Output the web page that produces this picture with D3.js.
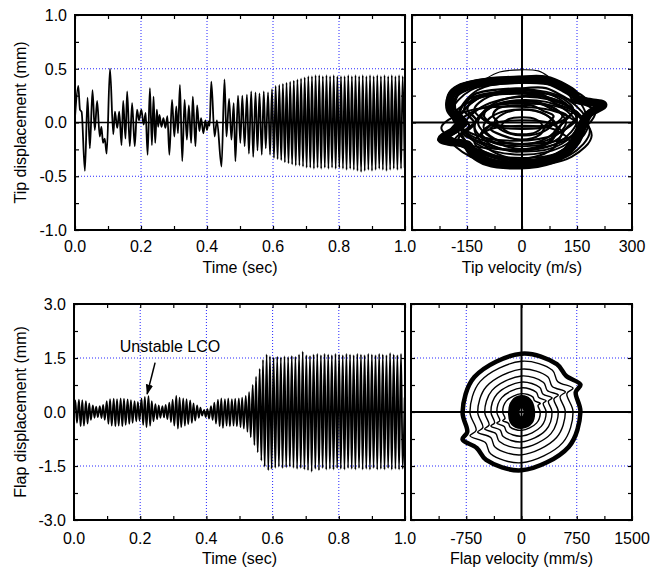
<!DOCTYPE html>
<html><head><meta charset="utf-8">
<script src="https://cdn.jsdelivr.net/npm/d3@7"></script>
<style>
body{margin:0;background:#fff}
text{font-family:"Liberation Sans",Arial,sans-serif;font-size:16px;fill:#000}
</style>
</head><body>
<svg id="chart" width="654" height="572"></svg>
<script>
// ---------------- DATA ----------------
const timeLabels = [0.0, 0.2, 0.4, 0.6, 0.8, 1.0];
const tipLabels = [-1.0, -0.5, 0.0, 0.5, 1.0];
const flapLabels = [-3.0, -1.5, 0.0, 1.5, 3.0];
const tipVelLabels = [-150, 0, 150, 300];
const flapVelLabels = [-750, 0, 750, 1500];

// tip displacement extrema [time s, mm]
const tipDisp = [
[0.000,0.05],[0.010,0.34],[0.015,0.12],[0.020,0.10],[0.030,-0.45],[0.038,0.23],[0.045,-0.24],[0.053,0.30],
[0.060,-0.07],[0.067,0.20],[0.075,-0.13],[0.080,-0.04],[0.085,-0.19],[0.090,-0.15],[0.096,-0.29],[0.106,0.50],
[0.116,-0.11],[0.121,0.10],[0.128,-0.05],[0.134,0.10],[0.141,-0.21],[0.146,0.20],[0.153,-0.15],[0.158,0.29],
[0.166,-0.22],[0.173,0.18],[0.181,-0.22],[0.188,0.12],[0.194,0.02],[0.201,0.12],[0.208,-0.02],[0.214,0.09],
[0.220,-0.30],[0.227,0.32],[0.233,-0.21],[0.238,0.24],[0.243,-0.19],[0.248,0.12],[0.252,-0.04],[0.256,0.07],
[0.262,-0.04],[0.268,0.04],[0.274,-0.05],[0.280,0.06],[0.286,-0.30],[0.294,0.21],[0.301,-0.13],[0.307,0.15],
[0.312,-0.10],[0.318,0.35],[0.325,-0.36],[0.332,0.21],[0.339,-0.16],[0.345,0.16],[0.352,-0.19],[0.357,0.24],
[0.365,-0.22],[0.370,0.16],[0.377,-0.08],[0.382,0.04],[0.389,-0.10],[0.395,0.02],[0.400,-0.07],[0.405,0.01],
[0.408,-0.03],[0.413,0.38],[0.423,-0.13],[0.430,0.02],[0.444,-0.41],[0.453,0.40],[0.459,-0.13],[0.467,0.22],
[0.474,-0.16],[0.481,0.18],[0.486,-0.36],[0.494,0.25],[0.501,-0.19],[0.507,0.25],[0.514,-0.22],[0.521,0.26],
[0.527,-0.29],[0.534,0.29],[0.540,-0.32],[0.547,0.28],[0.553,-0.26],[0.559,0.27],[0.566,-0.30],[0.572,0.29],
[0.578,-0.24],[0.585,0.28],[0.591,-0.30],[0.597,0.31],[0.603,-0.33],[0.608,0.34],[0.614,-0.34],[0.619,0.35],
[0.625,-0.35],[0.630,0.36],[0.636,-0.37],[0.641,0.37],[0.647,-0.38],[0.652,0.38],[0.658,-0.39],[0.663,0.39],
[0.669,-0.40],[0.674,0.40],[0.680,-0.40],[0.685,0.41],[0.691,-0.41],[0.696,0.42],[0.702,-0.42],[0.707,0.43],
[0.713,-0.42],[0.718,0.43],[0.724,-0.43],[0.729,0.44],[0.735,-0.42],[0.740,0.44],[0.746,-0.43],[0.751,0.43],
[0.757,-0.42],[0.762,0.44],[0.768,-0.43],[0.773,0.43],[0.779,-0.42],[0.784,0.44],[0.790,-0.43],[0.795,0.43],
[0.801,-0.42],[0.806,0.43],[0.812,-0.43],[0.817,0.43],[0.823,-0.44],[0.828,0.44],[0.834,-0.43],[0.839,0.43],
[0.845,-0.44],[0.850,0.44],[0.856,-0.45],[0.861,0.43],[0.867,-0.46],[0.872,0.44],[0.878,-0.45],[0.883,0.43],
[0.889,-0.44],[0.894,0.44],[0.900,-0.45],[0.905,0.43],[0.911,-0.44],[0.916,0.44],[0.922,-0.43],[0.927,0.43],
[0.933,-0.44],[0.938,0.44],[0.944,-0.45],[0.949,0.43],[0.955,-0.44],[0.960,0.44],[0.966,-0.43],[0.971,0.43],
[0.977,-0.44],[0.982,0.44],[0.988,-0.43],[0.993,0.43],[0.999,-0.42]
];

// flap displacement extrema [time s, mm]
const flapDisp = [
[0.000,0.00],[0.004,0.32],[0.009,-0.30],[0.015,0.34],[0.020,-0.40],[0.025,0.33],[0.030,-0.38],[0.036,0.30],[0.041,-0.32],
[0.046,0.24],[0.051,-0.22],[0.057,0.18],[0.062,-0.16],[0.067,0.15],[0.072,-0.14],[0.078,0.16],[0.083,-0.17],
[0.088,0.20],[0.093,-0.22],[0.099,0.30],[0.104,-0.33],[0.109,0.36],[0.114,-0.38],[0.120,0.37],[0.125,-0.40],
[0.130,0.36],[0.135,-0.38],[0.141,0.38],[0.146,-0.40],[0.151,0.37],[0.156,-0.36],[0.162,0.35],[0.167,-0.33],
[0.172,0.33],[0.177,-0.30],[0.183,0.30],[0.188,-0.26],[0.193,0.28],[0.198,-0.24],[0.204,0.38],[0.209,-0.36],
[0.214,0.42],[0.219,-0.42],[0.225,0.44],[0.230,-0.38],[0.235,0.30],[0.240,-0.26],[0.246,0.22],[0.251,-0.20],
[0.256,0.18],[0.261,-0.16],[0.267,0.16],[0.272,-0.15],[0.277,0.20],[0.282,-0.20],[0.288,0.26],[0.293,-0.28],
[0.298,0.34],[0.303,-0.38],[0.309,0.45],[0.314,-0.46],[0.319,0.40],[0.324,-0.42],[0.330,0.38],[0.335,-0.38],
[0.340,0.36],[0.345,-0.34],[0.351,0.32],[0.356,-0.30],[0.361,0.24],[0.366,-0.24],[0.372,0.18],[0.377,-0.16],
[0.382,0.12],[0.387,-0.10],[0.393,0.06],[0.398,-0.14],[0.403,0.08],[0.408,-0.18],[0.414,0.16],[0.419,-0.22],
[0.424,0.26],[0.429,-0.32],[0.435,0.34],[0.440,-0.40],[0.445,0.38],[0.450,-0.44],[0.456,0.36],[0.461,-0.38],
[0.466,0.38],[0.471,-0.40],[0.477,0.36],[0.482,-0.38],[0.487,0.37],[0.492,-0.40],[0.498,0.38],[0.503,-0.42],
[0.508,0.40],[0.513,-0.46],[0.519,0.45],[0.524,-0.55],[0.529,0.55],[0.534,-0.70],[0.540,0.75],[0.545,-0.92],
[0.550,0.98],[0.555,-1.12],[0.561,1.20],[0.566,-1.35],[0.571,1.45],[0.576,-1.52],[0.582,1.60],[0.587,-1.62],
[0.592,1.55],[0.597,-1.58],[0.603,1.52],[0.608,-1.55],[0.614,1.54],[0.619,-1.52],[0.625,1.52],[0.630,-1.56],
[0.636,1.55],[0.641,-1.54],[0.647,1.53],[0.652,-1.52],[0.658,1.56],[0.663,-1.55],[0.669,1.54],[0.674,-1.58],
[0.680,1.60],[0.685,-1.56],[0.691,1.68],[0.696,-1.60],[0.702,1.58],[0.707,-1.62],[0.713,1.56],[0.718,-1.66],
[0.724,1.60],[0.729,-1.58],[0.735,1.62],[0.740,-1.62],[0.746,1.58],[0.751,-1.56],[0.757,1.62],[0.762,-1.60],
[0.768,1.60],[0.773,-1.58],[0.779,1.58],[0.784,-1.60],[0.790,1.62],[0.795,-1.56],[0.801,1.60],[0.806,-1.58],
[0.812,1.58],[0.817,-1.60],[0.823,1.62],[0.828,-1.56],[0.834,1.60],[0.839,-1.58],[0.845,1.58],[0.850,-1.60],
[0.856,1.62],[0.861,-1.56],[0.867,1.60],[0.872,-1.60],[0.878,1.58],[0.883,-1.58],[0.889,1.62],[0.894,-1.60],
[0.900,1.60],[0.905,-1.56],[0.911,1.58],[0.916,-1.60],[0.922,1.62],[0.927,-1.58],[0.933,1.60],[0.938,-1.60],
[0.944,1.58],[0.949,-1.56],[0.955,1.64],[0.960,-1.60],[0.966,1.60],[0.971,-1.58],[0.977,1.58],[0.982,-1.60],
[0.988,1.62],[0.993,-1.58],[0.999,0.40]
];

// tip phase portrait loops [velocity m/s, displacement mm]
const tipBandOuter = [[0,0.42],[-100,0.40],[-168,0.345],[-196,0.28],[-203,0.20],[-200,0.12],[-185,0.05],[-165,0.01],[-185,-0.07],[-228,-0.16],[-205,-0.19],[-158,-0.21],[-138,-0.30],[-97,-0.385],[-6,-0.415],[84,-0.365],[128,-0.28],[155,-0.175],[165,-0.095],[174,-0.01],[187,0.085],[228,0.17],[193,0.20],[155,0.22],[145,0.28],[119,0.345],[66,0.415]];
const tipBandMid = [[-6,0.40],[-97,0.38],[-165,0.33],[-190,0.27],[-198,0.20],[-197,0.12],[-180,0.05],[-160,0.01],[-180,-0.06],[-220,-0.155],[-200,-0.18],[-155,-0.20],[-135,-0.29],[-95,-0.37],[-6,-0.40],[82,-0.35],[124,-0.27],[150,-0.17],[160,-0.09],[170,-0.01],[183,0.08],[222,0.165],[190,0.19],[152,0.21],[142,0.27],[116,0.33],[65,0.40]];
const tipBandInner = [[-6,0.37],[-90,0.35],[-152,0.30],[-176,0.25],[-183,0.18],[-181,0.11],[-166,0.04],[-148,0.0],[-166,-0.06],[-200,-0.14],[-184,-0.165],[-143,-0.185],[-124,-0.27],[-88,-0.34],[-6,-0.37],[75,-0.32],[114,-0.25],[138,-0.16],[148,-0.08],[156,-0.01],[168,0.07],[200,0.15],[175,0.175],[140,0.19],[131,0.25],[107,0.30],[60,0.37]];
const tipTopArc = [[-97,0.41],[-61,0.47],[-6,0.49],[44,0.48],[71,0.43]];
const tipSLoops = [
 [[0,0.39],[-157,0.32],[-188,0.16],[-157,0.02],[-204,-0.13],[-128,-0.27],[-6,-0.37],[118,-0.25],[157,-0.04],[204,0.16],[135,0.27],[62,0.39]],
 [[10,0.32],[-130,0.26],[-158,0.12],[-130,-0.01],[-173,-0.15],[-105,-0.27],[5,-0.36],[115,-0.25],[150,-0.06],[193,0.12],[131,0.21],[65,0.32]],
 [[-15,0.27],[-144,0.22],[-169,0.08],[-144,-0.03],[-183,-0.16],[-120,-0.27],[-20,-0.35],[82,-0.25],[114,-0.08],[153,0.08],[96,0.17],[36,0.27]],
 [[-10,0.29],[-125,0.24],[-149,0.12],[-125,0.02],[-160,-0.10],[-105,-0.19],[-14,-0.27],[77,-0.18],[105,-0.03],[140,0.12],[89,0.20],[35,0.29]],
 [[5,0.19],[-86,0.15],[-104,0.06],[-86,-0.02],[-113,-0.11],[-69,-0.19],[2,-0.25],[73,-0.18],[96,-0.06],[123,0.06],[83,0.12],[41,0.19]],
 [[0,0.16],[-66,0.13],[-79,0.06],[-66,0],[-86,-0.06],[-54,-0.12],[-2,-0.16],[50,-0.11],[66,-0.02],[86,0.06],[57,0.11],[26,0.16]]
];
const tipInnerLoops = [
 [[180,-0.02],[126,0.21],[0,0.31],[-126,0.21],[-180,-0.02],[-126,-0.25],[0,-0.35],[126,-0.25]],
 [[150,0.02],[102,0.22],[-10,0.30],[-122,0.22],[-170,0.02],[-122,-0.18],[-10,-0.26],[102,-0.18]],
 [[150,-0.03],[108,0.14],[10,0.21],[-88,0.14],[-130,-0.03],[-88,-0.20],[10,-0.27],[108,-0.20]],
 [[120,0],[84,0.14],[0,0.20],[-84,0.14],[-120,0],[-84,-0.14],[0,-0.20],[84,-0.14]],
 [[95,-0.04],[65,0.07],[-5,0.12],[-75,0.07],[-105,-0.04],[-75,-0.15],[-5,-0.20],[65,-0.15]],
 [[85,0],[61,0.08],[5,0.12],[-51,0.08],[-75,0],[-51,-0.08],[5,-0.12],[61,-0.08]],
 [[55,-0.03],[38,0.03],[0,0.05],[-38,0.03],[-55,-0.03],[-38,-0.09],[0,-0.11],[38,-0.09]],
 [[150,0.05],[99,0.20],[-20,0.27],[-139,0.20],[-190,0.05],[-139,-0.10],[-20,-0.17],[99,-0.10]],
 [[170,-0.05],[125,0.16],[20,0.25],[-85,0.16],[-130,-0.05],[-85,-0.26],[20,-0.35],[125,-0.26]],
 [[160,-0.05],[103,0.09],[-30,0.15],[-163,0.09],[-220,-0.05],[-163,-0.19],[-30,-0.25],[103,-0.19]],
 [[175,0.05],[122,0.30],[0,0.37],[-122,0.30],[-175,0.05],[-122,-0.20],[0,-0.30],[122,-0.20]],
 [[185,-0.08],[132,0.14],[10,0.24],[-112,0.14],[-165,-0.08],[-112,-0.30],[10,-0.38],[132,-0.30]],
 [[200,0.10],[140,0.30],[0,0.38],[-140,0.30],[-190,0.10],[-140,-0.12],[0,-0.20],[140,-0.12]],
 [[190,-0.12],[135,0.10],[0,0.18],[-135,0.10],[-200,-0.12],[-140,-0.32],[0,-0.40],[135,-0.32]],
 [[110,0.06],[78,0.15],[0,0.18],[-78,0.15],[-110,0.06],[-78,-0.03],[0,-0.06],[78,-0.03]],
 [[110,-0.10],[78,-0.01],[0,0.02],[-78,-0.01],[-110,-0.10],[-78,-0.19],[0,-0.22],[78,-0.19]],
 [[140,0.12],[100,0.24],[10,0.28],[-90,0.24],[-130,0.12],[-90,0.0],[10,-0.04],[100,0.0]],
 [[130,-0.18],[92,-0.07],[0,-0.03],[-92,-0.07],[-130,-0.18],[-92,-0.29],[0,-0.33],[92,-0.29]]
];

// flap phase portrait rings [velocity mm/s, displacement mm]
const flapOuterRing = [[0,1.62],[480,1.33],[608,1.0],[800,0.76],[736,0.55],[800,0],[640,-0.97],[0,-1.62],[-480,-1.33],[-608,-1.0],[-800,-0.76],[-736,-0.55],[-800,0],[-640,0.97]];
const flapRings = [
 [[0,1.41],[420,1.16],[490,0.85],[700,0.66],[616,0.51],[700,0],[560,-0.85],[0,-1.41],[-420,-1.16],[-490,-0.85],[-700,-0.66],[-616,-0.51],[-700,0],[-560,0.85]],
 [[0,1.19],[357,0.98],[417,0.71],[595,0.56],[524,0.43],[595,0],[476,-0.71],[0,-1.19],[-357,-0.98],[-417,-0.71],[-595,-0.56],[-524,-0.43],[-595,0],[-476,0.71]],
 [[0,1.0],[300,0.82],[350,0.60],[500,0.47],[440,0.36],[500,0],[400,-0.6],[0,-1.0],[-300,-0.82],[-350,-0.60],[-500,-0.47],[-440,-0.36],[-500,0],[-400,0.6]],
 [[0,0.83],[249,0.68],[290,0.50],[415,0.39],[365,0.30],[415,0],[332,-0.5],[0,-0.83],[-249,-0.68],[-290,-0.50],[-415,-0.39],[-365,-0.30],[-415,0],[-332,0.5]],
 [[0,0.67],[201,0.55],[235,0.40],[335,0.31],[295,0.24],[335,0],[268,-0.4],[0,-0.67],[-201,-0.55],[-235,-0.40],[-335,-0.31],[-295,-0.24],[-335,0],[-268,0.4]],
 [[0,0.51],[153,0.42],[178,0.31],[255,0.24],[224,0.18],[255,0],[204,-0.31],[0,-0.51],[-153,-0.42],[-178,-0.31],[-255,-0.24],[-224,-0.18],[-255,0],[-204,0.31]]
];
const flapCore = [
 [[0,0.40],[100,0.32],[150,0.05],[120,-0.28],[0,-0.40],[-110,-0.32],[-150,-0.05],[-110,0.28]],
 [[0,0.30],[75,0.22],[100,0],[75,-0.22],[0,-0.30],[-75,-0.22],[-100,0],[-75,0.22]],
 [[0,0.18],[45,0.12],[60,0],[45,-0.14],[0,-0.20],[-45,-0.14],[-60,0],[-45,0.12]]
];

// annotation: text position and arrow (time s, mm)
const annotText = "Unstable LCO";
const annotTextAt = [0.29, 1.68];
const annotArrow = [[0.245, 1.37], [0.221, 0.50]];

// ---------------- DRAWING ----------------
const svg = d3.select("#chart");
const fmt1 = d => d.toFixed(1);
const fmt0 = d => String(d);
const defs = svg.append("defs");
defs.append("marker").attr("id","ah").attr("viewBox","0 0 10 10").attr("refX",9).attr("refY",5)
  .attr("markerWidth",7).attr("markerHeight",7).attr("orient","auto-start-reverse")
  .append("path").attr("d","M0,1.5 L10,5 L0,8.5 z").attr("fill","#000");

const panels = [
 {id:"tl", x0:75, x1:405, y0:15, y1:230, xd:[0,1], yd:[-1,1], xStep:0.1, yStep:0.25,
  xGrid:[0.2,0.4,0.6,0.8], yGrid:[-0.5,0.5], xLab:timeLabels, xFmt:fmt1, yLab:tipLabels, yFmt:fmt1,
  labOff:22, titleY:273, xTitle:"Time (sec)", yTitle:"Tip displacement (mm)", cross:false},
 {id:"tr", x0:412, x1:632, y0:15, y1:230, xd:[-300,300], yd:[-1,1], xStep:75, yStep:0.25,
  xGrid:[-150,150], yGrid:[-0.5,0.5], xLab:tipVelLabels, xFmt:fmt0, yLab:null,
  labOff:22, titleY:273, xTitle:"Tip velocity (m/s)", cross:true},
 {id:"bl", x0:74, x1:405, y0:304, y1:520, xd:[0,1], yd:[-3,3], xStep:0.1, yStep:0.75,
  xGrid:[0.2,0.4,0.6,0.8], yGrid:[-1.5,1.5], xLab:timeLabels, xFmt:fmt1, yLab:flapLabels, yFmt:fmt1,
  labOff:24, titleY:564, xTitle:"Time (sec)", yTitle:"Flap displacement (mm)", cross:false},
 {id:"br", x0:411, x1:632, y0:304, y1:520, xd:[-1500,1500], yd:[-3,3], xStep:375, yStep:0.75,
  xGrid:[-750,750], yGrid:[-1.5,1.5], xLab:flapVelLabels, xFmt:fmt0, yLab:null,
  labOff:24, titleY:564, xTitle:"Flap velocity (mm/s)", cross:true}
];

const P = {};
panels.forEach(p => {
  const x = d3.scaleLinear().domain(p.xd).range([p.x0, p.x1]);
  const y = d3.scaleLinear().domain(p.yd).range([p.y1, p.y0]);
  const g = svg.append("g").attr("id", p.id);
  defs.append("clipPath").attr("id","clip-"+p.id).append("rect")
    .attr("x",p.x0).attr("y",p.y0).attr("width",p.x1-p.x0).attr("height",p.y1-p.y0);
  g.selectAll(".gx").data(p.xGrid).join("line")
    .attr("x1",d=>x(d)).attr("x2",d=>x(d)).attr("y1",p.y0).attr("y2",p.y1)
    .attr("stroke","#2626ff").attr("stroke-width",1).attr("stroke-dasharray","1,2");
  g.selectAll(".gy").data(p.yGrid).join("line")
    .attr("y1",d=>y(d)).attr("y2",d=>y(d)).attr("x1",p.x0).attr("x2",p.x1)
    .attr("stroke","#2626ff").attr("stroke-width",1).attr("stroke-dasharray","1,2");
  const dataG = g.append("g").attr("clip-path","url(#clip-"+p.id+")");
  const overG = g.append("g");
  P[p.id] = {x, y, g, dataG, overG, p};
});

function finishPanel(id){
  const {x, y, overG, p} = P[id];
  const g = overG;
  g.append("line").attr("x1",p.x0).attr("x2",p.x1).attr("y1",y(0)).attr("y2",y(0))
    .attr("stroke","#000").attr("stroke-width",p.cross?2:1.6);
  if (p.cross) g.append("line").attr("x1",x(0)).attr("x2",x(0)).attr("y1",p.y0).attr("y2",p.y1)
    .attr("stroke","#000").attr("stroke-width",2);
  const xt = d3.range(p.xd[0], p.xd[1] + p.xStep/2, p.xStep);
  const yt = d3.range(p.yd[0], p.yd[1] + p.yStep/2, p.yStep);
  const axes = [
    [d3.axisBottom(x).tickValues(xt), `translate(0,${p.y1})`],
    [d3.axisTop(x).tickValues(xt), `translate(0,${p.y0})`],
    [d3.axisLeft(y).tickValues(yt), `translate(${p.x0},0)`],
    [d3.axisRight(y).tickValues(yt), `translate(${p.x1},0)`]
  ];
  axes.forEach(([a,t]) => {
    const ag = g.append("g").attr("transform",t).call(a.tickSize(-4).tickFormat(""));
    ag.select(".domain").remove();
    ag.selectAll("line").attr("stroke","#000").attr("stroke-width",1.2);
    ag.selectAll("text").remove();
  });
  g.append("rect").attr("x",p.x0).attr("y",p.y0).attr("width",p.x1-p.x0).attr("height",p.y1-p.y0)
    .attr("fill","none").attr("stroke","#000").attr("stroke-width",2);
  g.selectAll(".xl").data(p.xLab).join("text")
    .attr("x",d=>x(d)).attr("y",p.y1+p.labOff).attr("text-anchor","middle").text(d=>p.xFmt(d));
  if (p.yLab) g.selectAll(".yl").data(p.yLab).join("text")
    .attr("x",p.x0-8).attr("y",d=>y(d)).attr("dy","0.36em").attr("text-anchor","end").text(d=>p.yFmt(d));
  g.append("text").attr("x",(p.x0+p.x1)/2).attr("y",p.titleY).attr("text-anchor","middle").text(p.xTitle);
  if (p.yTitle) g.append("text").attr("transform",`translate(26,${(p.y0+p.y1)/2}) rotate(-90)`)
    .attr("text-anchor","middle").text(p.yTitle);
}

function drawSeries(id, data){
  const {x, y, dataG} = P[id];
  const line = d3.line().x(d=>x(d[0])).y(d=>y(d[1])).curve(d3.curveMonotoneX);
  dataG.append("path").datum(data).attr("d",line).attr("fill","none")
    .attr("stroke","#000").attr("stroke-width",1.8).attr("stroke-linejoin","round");
}
drawSeries("tl", tipDisp);
drawSeries("bl", flapDisp);

function drawLoop(id, pts, w, closed=true){
  const {x, y, dataG} = P[id];
  const line = d3.line().x(d=>x(d[0])).y(d=>y(d[1]))
    .curve(closed ? d3.curveCatmullRomClosed.alpha(0.5) : d3.curveCatmullRom.alpha(0.5));
  dataG.append("path").datum(pts).attr("d",line).attr("fill","none")
    .attr("stroke","#000").attr("stroke-width",w).attr("stroke-linejoin","round");
}
drawLoop("tr", tipBandMid, 8);
drawLoop("tr", tipBandOuter, 3);
drawLoop("tr", tipBandInner, 2.5);
drawLoop("tr", tipTopArc, 1.2, false);
tipSLoops.forEach(l => drawLoop("tr", l, 2.3));
tipInnerLoops.forEach(l => drawLoop("tr", l, 2));

drawLoop("br", flapOuterRing, 4.5);
flapRings.forEach(r => drawLoop("br", r, 1.4));
flapCore.forEach(r => drawLoop("br", r, 5));

panels.forEach(p => finishPanel(p.id));

{
  const {x, y, overG} = P.bl;
  overG.append("text").attr("x",x(annotTextAt[0])).attr("y",y(annotTextAt[1])).attr("text-anchor","middle").text(annotText);
  overG.append("line").attr("x1",x(annotArrow[0][0])).attr("y1",y(annotArrow[0][1]))
    .attr("x2",x(annotArrow[1][0])).attr("y2",y(annotArrow[1][1]))
    .attr("stroke","#000").attr("stroke-width",1.5).attr("marker-end","url(#ah)");
}
</script>
</body></html>
